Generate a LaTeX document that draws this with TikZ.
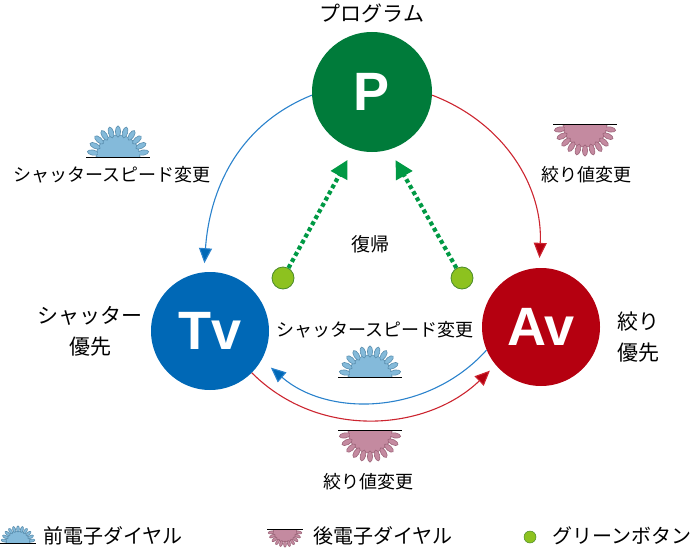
\documentclass[tikz,border=0pt]{standalone}
\usepackage{fontspec}
\setmainfont{Noto Sans CJK JP}
\newfontfamily\letterfont{Liberation Sans}
\usetikzlibrary{arrows.meta,calc}
\definecolor{pgreen}{HTML}{007B3A}
\definecolor{tvblue}{HTML}{0068B6}
\definecolor{avred}{HTML}{B50010}
\definecolor{arcblue}{HTML}{2A82CC}
\definecolor{arcred}{HTML}{CC2530}
\definecolor{dashgreen}{HTML}{009944}
\definecolor{dotfill}{HTML}{8DC21F}
\definecolor{dotedge}{HTML}{4A8A2A}
\definecolor{fdfill}{HTML}{84BADA}
\definecolor{fdedge}{HTML}{5A8EAE}
\definecolor{rdfill}{HTML}{C48AA0}
\definecolor{rdedge}{HTML}{9C6479}
\definecolor{baseline}{HTML}{B0B0B0}
\begin{document}
\begin{tikzpicture}[x=1pt,y=-1pt,
  mode/.style={circle, inner sep=0pt, text=white, font=\letterfont\bfseries\fontsize{54pt}{54pt}\selectfont},
  lbl/.style={inner sep=0pt, font=\fontsize{18pt}{20pt}\selectfont},
  biglbl/.style={inner sep=0pt, align=center, font=\fontsize{21pt}{31pt}\selectfont},
  leg/.style={inner sep=0pt, anchor=west, font=\fontsize{20pt}{22pt}\selectfont},
  gdot/.style={circle, inner sep=0pt, fill=dotfill, draw=dotedge, line width=0.8pt},
  bluearc/.style={draw=arcblue, line width=1.1pt, -{Triangle[length=15pt,width=13pt,fill=tvblue]}},
  redarc/.style={draw=arcred, line width=1.1pt, -{Triangle[length=15pt,width=13pt,fill=avred]}},
  back/.style={draw=dashgreen, line width=4.2pt, dash pattern=on 4pt off 3pt, -{Triangle[length=18pt,width=18pt]}},
  dialbody/.pic={
    \filldraw[fill=#1fill, draw=#1edge, line width=0.6pt] (-22,0) arc[start angle=180, end angle=360, radius=22] -- cycle;
    \foreach \a in {190,206,...,350} {
      \filldraw[fill=#1fill, draw=#1edge, line width=0.6pt, shift={(\a:25.5)}, rotate=-\a] (0,0) ellipse[x radius=5.6, y radius=2.6];
    }
    \fill[#1fill] (-20.5,-0.3) rectangle (20.5,-5);
    \draw[baseline, line width=0.9pt] (-32,0.6) -- (32,0.6);
  },
]
\useasboundingbox (0,0) rectangle (690,551);

% mode circles
\node[mode, fill=pgreen, minimum size=120pt] (P) at (372,92) {P};
\node[mode, fill=tvblue, minimum size=118pt] (Tv) at (210,331) {Tv};
\node[mode, fill=avred, minimum size=118pt] (Av) at (541,327) {Av};

% titles
\node[biglbl] (tP) at (372,13) {プログラム};
\node[biglbl] (tTv) at (90,331) {シャッター\\優先};
\node[biglbl] (tAv) at (638,337) {絞り\\優先};

% arcs
\draw[bluearc, shorten >=9pt] (P.183) to[out=202, in=86] (Tv.96);
\draw[redarc, shorten >=10pt] (P.357) to[out=339, in=87] (Av.92);
\draw[bluearc, shorten >=12pt] (Av.203) to[out=228, in=319] (Tv.331);
\draw[redarc, shorten >=8pt] (Tv.315) to[out=315, in=224] (Av.220);

% return arrows
\node[gdot, minimum size=22pt] (g1) at (283,278) {};
\node[gdot, minimum size=22pt] (g2) at (462,278) {};
\draw[back, shorten >=12pt] (g1) -- (P.252);
\draw[back, shorten >=12pt] (g2) -- (P.287);
\node[lbl, font=\fontsize{19pt}{20pt}\selectfont] (ret) at (370,244) {復帰};

% dials and their labels
\pic (fd1) at (118,157) {dialbody=fd};
\node[lbl] (l1) at (112,175) {シャッタースピード変更};
\pic[yscale=-1] (rd1) at (585,125) {dialbody=rd};
\node[lbl] (l2) at (586,175) {絞り値変更};
\pic (fd2) at (370,377) {dialbody=fd};
\node[lbl] (l3) at (375,330) {シャッタースピード変更};
\pic[yscale=-1] (rd2) at (370,431) {dialbody=rd};
\node[lbl] (l4) at (368,482) {絞り値変更};

% legend
\pic[scale=0.55] (fd3) at (18,543) {dialbody=fd};
\node[leg] (lg1) at (43,536) {前電子ダイヤル};
\pic[scale=0.55, yscale=-1] (rd3) at (285,530) {dialbody=rd};
\node[leg] (lg2) at (313,536) {後電子ダイヤル};
\node[gdot, minimum size=12pt, line width=0.5pt] (lg3) at (530,537) {};
\node[leg] (lg4) at (552,536) {グリーンボタン};
\end{tikzpicture}
\end{document}
